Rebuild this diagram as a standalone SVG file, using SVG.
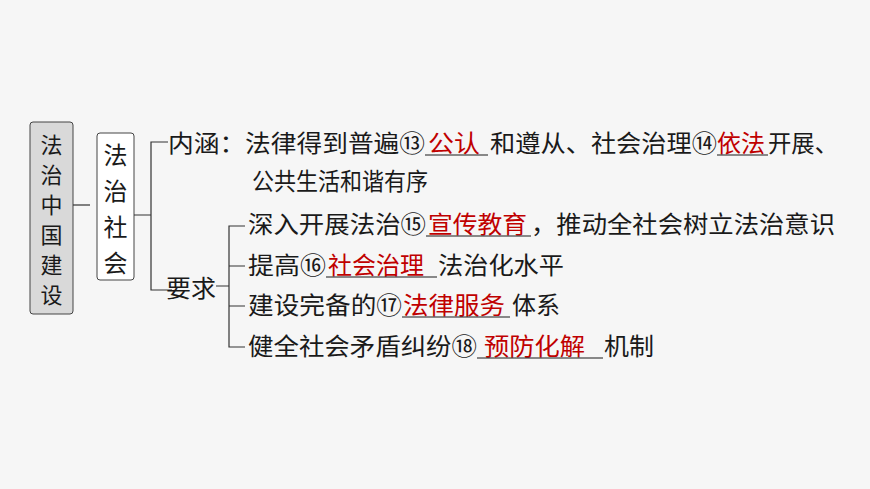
<svg xmlns="http://www.w3.org/2000/svg" width="870" height="489" viewBox="0 0 870 489">
<style>
text{font-family:"Noto Sans CJK SC","Noto Sans",sans-serif;font-size:24px;fill:#1a1a1a}
.v{font-size:22px}
.r{fill:#c00000}
.u{stroke:#1a1a1a;stroke-width:1.2}
.c{fill:none;stroke:#333;stroke-width:1.2}
</style>
<rect width="870" height="489" fill="#f6f6f6"/>
<g id="n-root"><rect x="30" y="122" width="43" height="192" rx="3" fill="#d9d9d9" stroke="#444" stroke-width="1"/>
<text class="v" x="51.5" y="153" text-anchor="middle">法</text><text class="v" x="51.5" y="183" text-anchor="middle">治</text><text class="v" x="51.5" y="213" text-anchor="middle">中</text><text class="v" x="51.5" y="243" text-anchor="middle">国</text><text class="v" x="51.5" y="273" text-anchor="middle">建</text><text class="v" x="51.5" y="303" text-anchor="middle">设</text></g>
<g id="n-society"><rect x="97" y="133" width="37" height="147" rx="3" fill="#fff" stroke="#444" stroke-width="1"/>
<text x="115.5" y="164" text-anchor="middle">法</text><text x="115.5" y="200" text-anchor="middle">治</text><text x="115.5" y="236" text-anchor="middle">社</text><text x="115.5" y="272" text-anchor="middle">会</text></g>
<g id="connectors">
<path class="c" d="M73 205H90"/>
<path class="c" d="M134 215H151M168 142H151V290H172"/>
<path class="c" d="M216 286H229M245 226H229V347H245M229 266H245M229 306H245"/>
</g>
<g id="n-neihan">
<text x="168" y="152" textLength="257" lengthAdjust="spacingAndGlyphs">内涵：法律得到普遍⑬</text>
<text class="r" x="428" y="152" textLength="52" lengthAdjust="spacingAndGlyphs">公认</text><line class="u" x1="425" y1="155" x2="488" y2="155"/>
<text x="490" y="152" textLength="227" lengthAdjust="spacingAndGlyphs">和遵从、社会治理⑭</text>
<text class="r" x="717" y="152" textLength="48" lengthAdjust="spacingAndGlyphs">依法</text><line class="u" x1="717" y1="155" x2="768" y2="155"/>
<text x="768" y="152" textLength="70" lengthAdjust="spacingAndGlyphs">开展、</text>
<text x="252" y="190" textLength="176" lengthAdjust="spacingAndGlyphs">公共生活和谐有序</text></g>
<g id="n-yaoqiu"><text x="166" y="297" textLength="50" lengthAdjust="spacingAndGlyphs">要求</text></g>
<g id="n-r1"><text x="248" y="233" textLength="178" lengthAdjust="spacingAndGlyphs">深入开展法治⑮</text>
<text class="r" x="428" y="233" textLength="99" lengthAdjust="spacingAndGlyphs">宣传教育</text><line class="u" x1="426" y1="236" x2="531" y2="236"/>
<text x="531" y="233" textLength="304" lengthAdjust="spacingAndGlyphs">，推动全社会树立法治意识</text></g>
<g id="n-r2"><text x="248" y="274" textLength="78" lengthAdjust="spacingAndGlyphs">提高⑯</text>
<text class="r" x="328" y="274" textLength="96" lengthAdjust="spacingAndGlyphs">社会治理</text><line class="u" x1="326" y1="277" x2="437" y2="277"/>
<text x="438" y="274" textLength="126" lengthAdjust="spacingAndGlyphs">法治化水平</text></g>
<g id="n-r3"><text x="248" y="314" textLength="154" lengthAdjust="spacingAndGlyphs">建设完备的⑰</text>
<text class="r" x="403" y="314" textLength="102" lengthAdjust="spacingAndGlyphs">法律服务</text><line class="u" x1="402" y1="317" x2="510" y2="317"/>
<text x="512" y="314" textLength="48" lengthAdjust="spacingAndGlyphs">体系</text></g>
<g id="n-r4"><text x="248" y="355" textLength="229" lengthAdjust="spacingAndGlyphs">健全社会矛盾纠纷⑱</text>
<text class="r" x="484" y="355" textLength="101" lengthAdjust="spacingAndGlyphs">预防化解</text><line class="u" x1="477" y1="358" x2="603" y2="358"/>
<text x="604" y="355" textLength="50" lengthAdjust="spacingAndGlyphs">机制</text></g>
</svg>
